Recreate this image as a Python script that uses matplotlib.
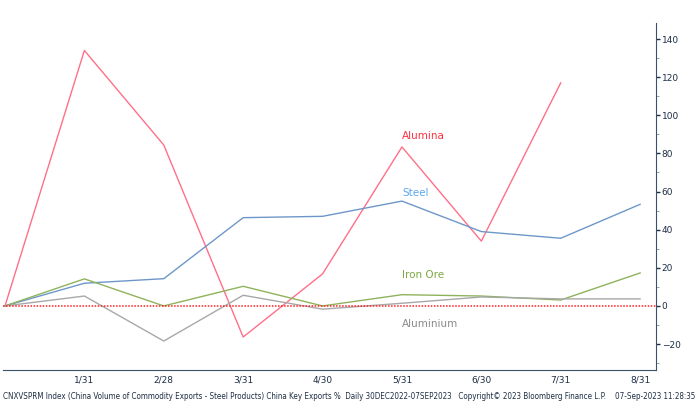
import matplotlib
matplotlib.use('Agg')
import matplotlib.pyplot as plt
from matplotlib.ticker import MultipleLocator

# month-end labels (first point is 30 Dec 2022, unlabeled)
months = ['', '1/31', '2/28', '3/31', '4/30', '5/31', '6/30', '7/31', '8/31']

alumina = [0, 134, 84.4, -16.3, 16.8, 83.4, 34.0, 117.0]
steel = [0, 11.9, 14.3, 46.3, 47.0, 55.0, 39.0, 35.5, 53.3]
iron_ore = [0, 14.2, 0.0, 10.3, 0.0, 5.9, 5.2, 3.1, 17.3]
aluminium = [0, 5.2, -18.4, 5.6, -1.7, 1.4, 4.7, 3.7, 3.7]

fig = plt.figure(figsize=(7, 4.15), dpi=100)
ax = fig.add_axes([3/700, 1-370/415, 653/700, 347/415])

ax.plot(range(len(alumina)), alumina, color='#ff7088', lw=1)
ax.plot(range(len(steel)), steel, color='#6e97c9', lw=1)
ax.plot(range(len(iron_ore)), iron_ore, color='#8fb35c', lw=1)
ax.plot(range(len(aluminium)), aluminium, color='#a8a8a8', lw=1)
ax.axhline(0, color='#ff2020', lw=1.1, ls=(0, (1, 1)))

ax.set_xlim(-0.025, 8.2)
ax.set_ylim(-33.6, 148.4)

# labels in the middle of the chart
lab_font = dict(fontsize=7.5, family='DejaVu Sans')
ax.text(5, 89, 'Alumina', color='#ff3040', ha='left', va='center', **lab_font)
ax.text(5, 59, 'Steel', color='#5aa8f0', ha='left', va='center', **lab_font)
ax.text(5, 16, 'Iron Ore', color='#7aa840', ha='left', va='center', **lab_font)
ax.text(5, -9.5, 'Aluminium', color='#8a8a8a', ha='left', va='center', **lab_font)

for s in ['top', 'left']:
    ax.spines[s].set_visible(False)
ax.spines['right'].set_color('#3c5068')
ax.spines['bottom'].set_color('#3c5068')

ax.yaxis.tick_right()
ax.yaxis.set_major_locator(MultipleLocator(20))
ax.yaxis.set_minor_locator(MultipleLocator(10))
ax.tick_params(axis='y', which='major', length=3, width=1, color='#1e2e44',
               labelsize=6.5, labelcolor='#1e2e44', pad=1)
ax.tick_params(axis='y', which='minor', length=2, color='#8090a0')

ax.set_xticks(range(len(months)))
ax.set_xticklabels(months)
ax.tick_params(axis='x', length=0, labelsize=6.5, labelcolor='#1e2e44', pad=4)

fig.text(3/700, 1-396/415,
         'CNXVSPRM Index (China Volume of Commodity Exports - Steel Products) China Key Exports %  '
         'Daily 30DEC2022-07SEP2023   Copyright\u00a9 2023 Bloomberg Finance L.P.    07-Sep-2023 11:28:35',
         fontsize=5.8, color='#1e2e44', ha='left', va='center', fontstretch='condensed')

fig.savefig('out.png', dpi=100)
